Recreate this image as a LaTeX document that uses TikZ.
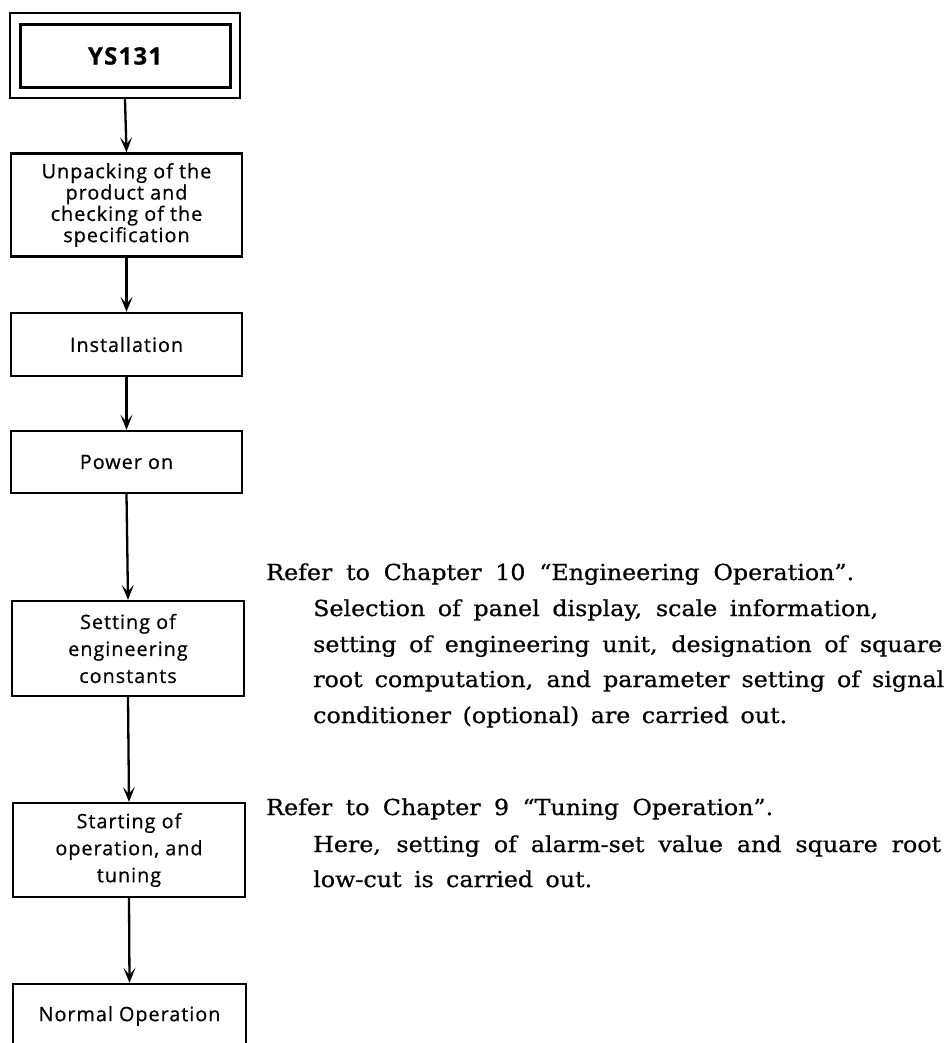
\documentclass[tikz,border=0pt]{standalone}
\usepackage{fontspec}
\usetikzlibrary{arrows.meta}
\newfontfamily\boxfont{Open Sans}[LetterSpace=5,FakeBold=0.6]
\newfontfamily\boldboxfont{Open Sans Bold}[LetterSpace=3]
\newfontfamily\notefont{DejaVu Serif}[FakeStretch=1.08,FakeBold=0.7]
\begin{document}
\begin{tikzpicture}[x=1pt,y=-1pt,
  box/.style={draw, line width=2.3pt, inner sep=0pt, align=center,
    font=\boxfont\fontsize{19.8}{27}\selectfont},
  flow/.style={line width=2.3pt, -{Stealth[length=15pt,width=12pt,inset=7pt]}},
  note/.style={anchor=base west, inner sep=0pt,
    font=\notefont\fontsize{22}{36}\selectfont}]
\useasboundingbox (0,0) rectangle (949,1043);
\fill[white] (0,0) rectangle (949,1043);

% flow boxes
\node[box, minimum width=230pt, minimum height=85pt] (ysout) at (125,55.5) {};
\node[box, line width=3pt, minimum width=210pt, minimum height=63pt,
  font=\boxfont\bfseries\fontsize{24}{27}\selectfont] (ys) at (125,56) {YS131};
\node[box, minimum width=231pt, minimum height=103pt,
  font=\boxfont\fontsize{19.8}{21.3}\selectfont] (unp) at (126.5,205)
  {Unpacking of the\\product and\\checking of the\\specification};
\node[box, minimum width=231pt, minimum height=63pt] (inst) at (126.5,344.5) {Installation};
\node[box, minimum width=231pt, minimum height=62pt] (pow) at (126.5,462) {Power on};
\node[box, minimum width=232pt, minimum height=95pt] (set) at (128,648.5)
  {Setting of\\engineering\\constants};
\node[box, minimum width=232pt, minimum height=94pt] (start) at (129,850)
  {Starting of\\operation, and\\tuning};
\node[box, minimum width=233pt, minimum height=64pt] (norm) at (129.5,1016) {Normal Operation};

% connectors
\draw[flow] (ysout.south) -- (unp.north);
\draw[flow] (unp.south) -- (inst.north);
\draw[flow] (inst.south) -- (pow.north);
\draw[flow] (pow.south) -- (set.north);
\draw[flow] (set.south) -- (start.north);
\draw[flow] (start.south) -- (norm.north);

% notes
\node[note] (n1) at (266,580) {\makebox[588pt][s]{Refer to Chapter 10 “Engineering Operation”.}};
\node[note] (n2) at (313,616) {\makebox[565pt][s]{Selection of panel display, scale information,}};
\node[note] (n3) at (313,652) {\makebox[629pt][s]{setting of engineering unit, designation of square}};
\node[note] (n4) at (313,687) {\makebox[631pt][s]{root computation, and parameter setting of signal}};
\node[note] (n5) at (313,723) {\makebox[474pt][s]{conditioner (optional) are carried out.}};
\node[note] (n6) at (266,815) {\makebox[507pt][s]{Refer to Chapter 9 “Tuning Operation”.}};
\node[note] (n7) at (313,852) {\makebox[628pt][s]{Here, setting of alarm-set value and square root}};
\node[note] (n8) at (313,887) {\makebox[279pt][s]{low-cut is carried out.}};
\end{tikzpicture}
\end{document}
